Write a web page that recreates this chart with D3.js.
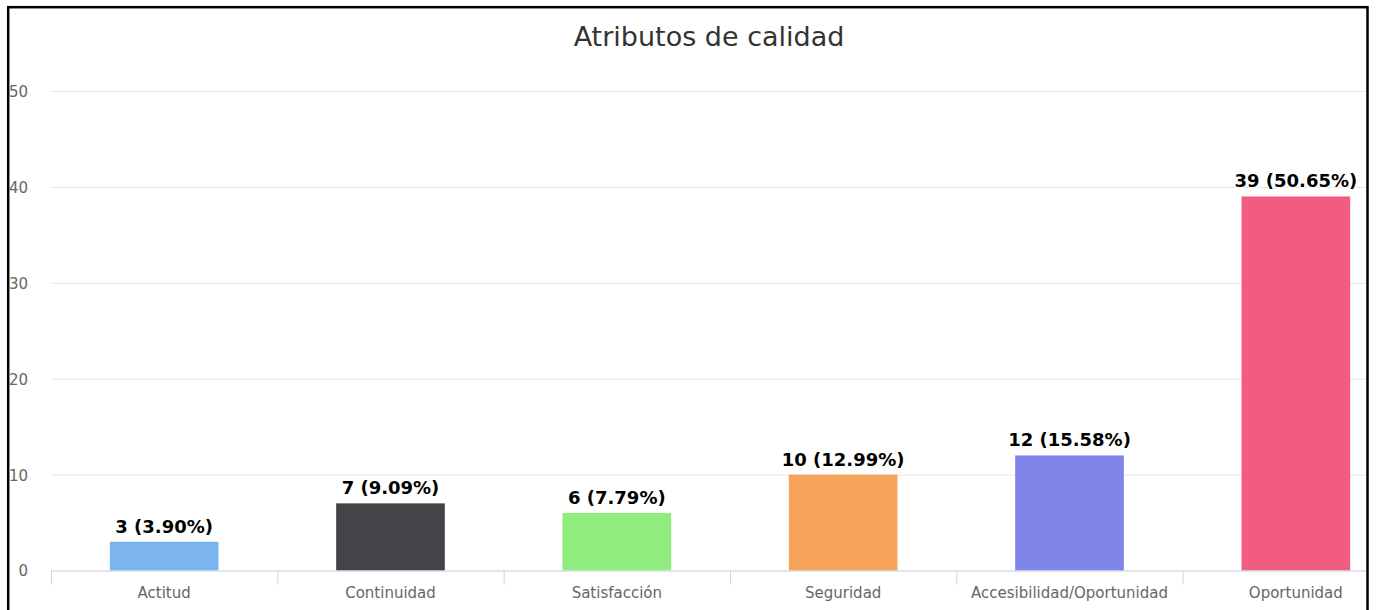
<!DOCTYPE html>
<html>
<head>
<meta charset="utf-8">
<script src="https://cdn.jsdelivr.net/npm/d3@7"></script>
<style>
  html, body { margin: 0; padding: 0; background: #fff; }
  svg text { font-family: "DejaVu Sans", Verdana, sans-serif; }
</style>
</head>
<body>
<svg id="chart" width="1376" height="610"></svg>
<script>
// datos del grafico
var categories = ["Actitud", "Continuidad", "Satisfacción", "Seguridad", "Accesibilidad/Oportunidad", "Oportunidad"];
var values = [3, 7, 6, 10, 12, 39];
var colors = ["#7cb5ec", "#434348", "#90ed7d", "#f7a35c", "#8085e9", "#f15c80"];
var yTicks = [0, 10, 20, 30, 40, 50];
var title = "Atributos de calidad";

var total = d3.sum(values);

var svg = d3.select("svg#chart");

// el grafico es mas ancho que el marco, se recorta a la derecha
svg.append("defs").append("clipPath").attr("id", "frameClip")
	.append("rect").attr("x", 9).attr("y", 8).attr("width", 1357).attr("height", 610);

var g = svg.append("g").attr("clip-path", "url(#frameClip)");

var plotLeft = 51, plotRight = 1409;
var x = d3.scaleBand().domain(categories).range([plotLeft, plotRight]).padding(0);
var y = d3.scaleLinear().domain([0, 50]).range([570.5, 91]);

// titulo
g.append("text")
	.attr("x", 709)
	.attr("y", 46)
	.attr("text-anchor", "middle")
	.style("font-size", "27px")
	.style("fill", "#333333")
	.text(title);

// lineas de cuadricula y etiquetas del eje y
var yAxis = g.append("g")
	.attr("transform", "translate(" + plotLeft + ",0)")
	.call(d3.axisLeft(y).tickValues(yTicks).tickSize(-(plotRight - plotLeft)).tickPadding(0));
yAxis.select(".domain").remove();
yAxis.selectAll(".tick line").attr("stroke", "#e6e6e6").attr("stroke-width", 1);
yAxis.selectAll(".tick text")
	.attr("x", 28 - plotLeft)
	.attr("dy", "0.36em")
	.attr("text-anchor", "end")
	.style("font-size", "15px")
	.style("fill", "#666666");

// barras
var bw = x.bandwidth();
g.append("g").selectAll("rect")
	.data(values)
	.enter().append("rect")
	.attr("x", function (d, i) { return x(categories[i]) + bw * 0.26; })
	.attr("width", bw * 0.48)
	.attr("y", function (d) { return y(d); })
	.attr("height", function (d) { return y(0) - y(d); })
	.attr("fill", function (d, i) { return colors[i]; });

// eje x
var xAxis = g.append("g")
	.attr("transform", "translate(0," + y(0) + ")")
	.call(d3.axisBottom(x).tickSize(0).tickPadding(0));
xAxis.select(".domain").attr("stroke", "#ccd6eb");
xAxis.selectAll(".tick line").remove();
xAxis.selectAll(".tick text")
	.attr("y", 27)
	.attr("dy", 0)
	.style("font-size", "15px")
	.style("fill", "#666666");
// marcas entre categorias
xAxis.selectAll("line.sep")
	.data(categories)
	.enter().append("line")
	.attr("class", "sep")
	.attr("x1", function (d) { return x(d) + 0.5; })
	.attr("x2", function (d) { return x(d) + 0.5; })
	.attr("y1", 0)
	.attr("y2", 14)
	.attr("stroke", "#ccd6eb");

// etiquetas de datos
g.append("g").selectAll("text")
	.data(values)
	.enter().append("text")
	.attr("x", function (d, i) { return x(categories[i]) + bw / 2; })
	.attr("y", function (d) { return y(d) - 9; })
	.attr("text-anchor", "middle")
	.style("font-size", "18px")
	.style("font-weight", "bold")
	.style("fill", "#000000")
	.style("stroke", "#ffffff")
	.style("stroke-width", "2px")
	.style("paint-order", "stroke")
	.style("stroke-linejoin", "round")
	.text(function (d) { return d + " (" + (d / total * 100).toFixed(2) + "%)"; });

// marco negro
svg.append("rect")
	.attr("x", 8.2)
	.attr("y", 7.2)
	.attr("width", 1359.3)
	.attr("height", 640)
	.attr("fill", "none")
	.attr("stroke", "#000000")
	.attr("stroke-width", 2.5);
</script>
</body>
</html>
